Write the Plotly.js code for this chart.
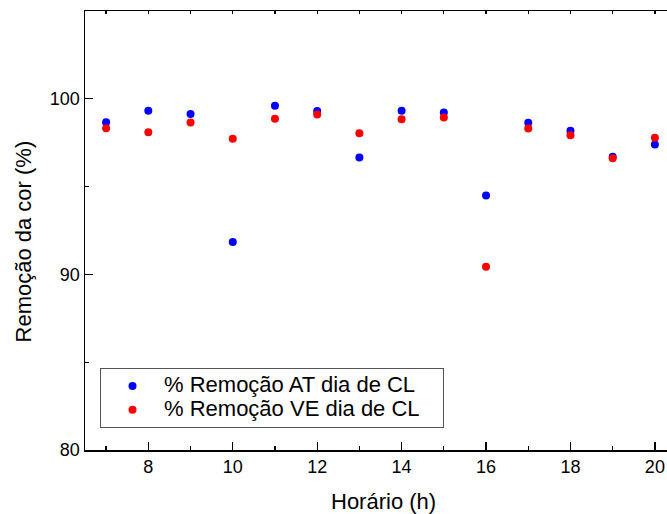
<!DOCTYPE html>
<html>
<head>
<meta charset="utf-8">
<script src="https://cdn.plot.ly/plotly-3.0.1.min.js"></script>
<style>
  html, body { margin: 0; padding: 0; overflow: hidden; background: #fff; }
  #chart { width: 680px; height: 514px; }
</style>
</head>
<body>
<div id="chart"></div>
<script>
const hours = [7, 8, 9, 10, 11, 12, 13, 14, 15, 16, 17, 18, 19, 20];
const removalAT = [98.67, 99.32, 99.13, 91.85, 99.60, 99.30, 96.66, 99.32, 99.22, 94.49, 98.63, 98.18, 96.70, 97.40];
const removalVE = [98.33, 98.10, 98.65, 97.72, 98.86, 99.11, 98.04, 98.84, 98.94, 90.44, 98.31, 97.93, 96.62, 97.78];
const seriesNames = ['% Remoção AT dia de CL', '% Remoção VE dia de CL'];
const xTitle = 'Horário (h)';
const yTitle = 'Remoção da cor (%)';

const FONT = 'Arial, "Liberation Sans", sans-serif';
const legendLabel = s => '<span style="font-size:22px">' + s + '\u00a0\u00a0\u00a0</span>';

const traces = [
  {
    x: hours, y: removalAT, name: legendLabel(seriesNames[0]), type: 'scatter', mode: 'markers',
    marker: { color: '#0000ff', size: 8, line: { width: 0 } }
  },
  {
    x: hours, y: removalVE, name: legendLabel(seriesNames[1]), type: 'scatter', mode: 'markers',
    marker: { color: '#ff0000', size: 8, line: { width: 0 } }
  },
  {
    x: hours, y: removalAT, xaxis: 'x2', yaxis: 'y', type: 'scatter', mode: 'markers',
    marker: { opacity: 0 }, showlegend: false, hoverinfo: 'skip'
  }
];

const layout = {
  width: 680, height: 514,
  margin: { l: 85, r: 4, t: 11, b: 64, pad: 0 },
  paper_bgcolor: '#ffffff', plot_bgcolor: '#ffffff',
  font: { family: FONT, color: '#000000', size: 18 },
  showlegend: true,
  xaxis: {
    range: [6.5, 20.5], dtick: 2, tick0: 0, ticks: 'inside', ticklen: 8, tickwidth: 1.3,
    tickcolor: '#000', showgrid: false, zeroline: false,
    showline: true, linecolor: '#000', linewidth: 1.5, mirror: true,
    tickfont: { size: 18, family: FONT, color: '#000' },
    minor: { dtick: 1, ticks: 'inside', ticklen: 4, tickwidth: 1.3, tickcolor: '#000', showgrid: false }
  },
  xaxis2: {
    overlaying: 'x', side: 'top', matches: 'x', range: [6.5, 20.5], dtick: 1, tick0: 0,
    ticks: 'inside', ticklen: 3, tickwidth: 1.3, tickcolor: '#000',
    showticklabels: false, showline: false, showgrid: false, zeroline: false
  },
  yaxis: {
    range: [80, 105], dtick: 10, tick0: 0, ticks: 'inside', ticklen: 8, tickwidth: 1.3,
    tickcolor: '#000', showgrid: false, zeroline: false,
    showline: true, linecolor: '#000', linewidth: 1.5, mirror: true,
    tickfont: { size: 18, family: FONT, color: '#000' },
    minor: { dtick: 5, ticks: 'inside', ticklen: 4, tickwidth: 1.3, tickcolor: '#000', showgrid: false }
  },
  legend: {
    x: 0.0254, y: 0.050, xanchor: 'left', yanchor: 'bottom',
    bgcolor: '#ffffff', bordercolor: '#555555', borderwidth: 1,
    font: { family: FONT, size: 16, color: '#000' },
    itemwidth: 53, tracegroupgap: 0
  },
  annotations: [
    {
      text: xTitle, xref: 'paper', yref: 'paper', x: 0.505, y: -0.118,
      xanchor: 'center', yanchor: 'middle', showarrow: false,
      font: { family: FONT, size: 22, color: '#000' }
    },
    {
      text: yTitle, xref: 'paper', yref: 'paper', x: -0.1049, y: 0.475,
      xanchor: 'center', yanchor: 'middle', textangle: -90, showarrow: false,
      font: { family: FONT, size: 22, color: '#000' }
    }
  ]
};

Plotly.newPlot('chart', traces, layout, { staticPlot: true, displayModeBar: false });
</script>
</body>
</html>
